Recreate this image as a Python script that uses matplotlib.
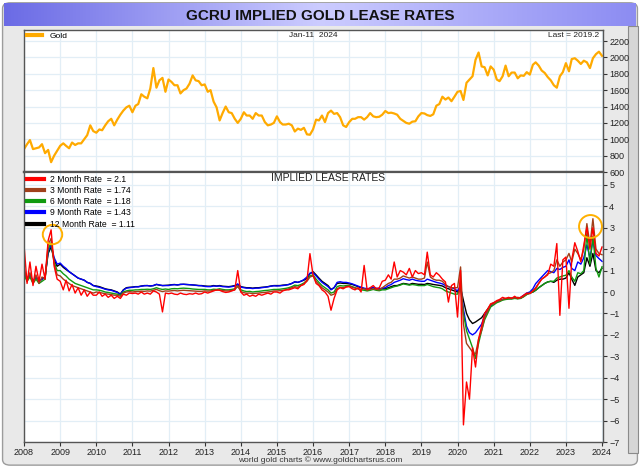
import matplotlib
matplotlib.use('Agg')
import matplotlib.pyplot as plt
import matplotlib.dates as mdates
from matplotlib.patches import FancyBboxPatch, Rectangle
from matplotlib.lines import Line2D
import numpy as np
import pandas as pd

plt.rcParams['font.family'] = ['Liberation Sans', 'DejaVu Sans']

# monthly points, Jan 2008 .. Jan 2024
dates = pd.date_range('2008-01-01', periods=193, freq='MS')

gold = [
    880, 940, 990, 880, 890, 900, 940, 830, 870, 720, 800, 860,
    920, 950, 920, 890, 960, 930, 950, 950, 1000, 1050, 1170, 1100,
    1080, 1120, 1110, 1170, 1220, 1250, 1170, 1240, 1300, 1350, 1390, 1410,
    1330, 1410, 1430, 1550, 1520, 1500, 1620, 1870, 1630, 1720, 1750, 1580,
    1730, 1700, 1660, 1660, 1560, 1600, 1620, 1680, 1780, 1720, 1710, 1660,
    1670, 1580, 1600, 1460, 1390, 1230, 1320, 1400, 1330, 1320, 1250, 1200,
    1250, 1330, 1290, 1290, 1250, 1320, 1290, 1290, 1210, 1170, 1180, 1200,
    1280, 1210, 1180, 1180, 1190, 1170, 1095, 1130, 1115, 1140, 1060, 1055,
    1120, 1240, 1230, 1290, 1210, 1320, 1350, 1310, 1320, 1270, 1170, 1150,
    1210, 1250, 1250, 1270, 1270, 1240, 1270, 1320, 1280, 1270, 1275, 1300,
    1345, 1320, 1325, 1315, 1300, 1250, 1225, 1200, 1190, 1215, 1220, 1280,
    1320, 1315, 1295, 1285, 1305, 1410, 1430, 1520, 1485, 1510, 1465, 1520,
    1580, 1590, 1480, 1690, 1730, 1770, 1970, 2060, 1890, 1880, 1780, 1890,
    1850, 1730, 1710, 1770, 1900, 1770, 1815, 1815, 1745, 1780, 1775, 1820,
    1790, 1910, 1940, 1900, 1840, 1810, 1760, 1720, 1660, 1630, 1770, 1820,
    1930, 1830, 1980, 1990, 1960, 1920, 1960, 1940, 1870, 1990, 2040, 2070,
    2019.2,
]

rate_12m = [
    0.9, 0.6, 0.8, 0.5, 0.7, 0.5, 0.6, 0.7, 1.8, 2.1, 1.5, 1.2,
    1.3, 1.15, 1.05, 0.95, 0.85, 0.75, 0.65, 0.6, 0.55, 0.45, 0.4, 0.3,
    0.28, 0.25, 0.2, 0.15, 0.12, 0.1, 0.05, 0.0, -0.1, 0.1, 0.2, 0.22,
    0.23, 0.25, 0.25, 0.28, 0.3, 0.3, 0.28, 0.3, 0.35, 0.32, 0.3, 0.31,
    0.32, 0.34, 0.35, 0.33, 0.35, 0.36, 0.35, 0.34, 0.33, 0.32, 0.3, 0.3,
    0.28, 0.27, 0.27, 0.3, 0.28, 0.3, 0.27, 0.26, 0.25, 0.27, 0.3, 0.35,
    0.25, 0.22, 0.2, 0.2, 0.18, 0.2, 0.2, 0.22, 0.23, 0.25, 0.28, 0.3,
    0.3, 0.3, 0.32, 0.33, 0.35, 0.4, 0.47, 0.45, 0.5, 0.55, 0.65, 0.85,
    0.95, 0.8, 0.65, 0.5, 0.4, 0.3, 0.12, 0.2, 0.4, 0.42, 0.4, 0.4,
    0.38, 0.35, 0.3, 0.25, 0.2, 0.15, 0.12, 0.15, 0.2, 0.15, 0.12, 0.15,
    0.15, 0.2, 0.25, 0.3, 0.3, 0.35, 0.4, 0.38, 0.35, 0.4, 0.38, 0.36,
    0.36, 0.35, 0.4, 0.38, 0.35, 0.33, 0.31, 0.28, 0.2, 0.15, 0.1, 0.05,
    0.0, 0.2, -0.4, -1.0, -1.3, -1.47, -1.4, -1.3, -1.2, -1.0, -0.8, -0.6,
    -0.5, -0.45, -0.4, -0.35, -0.32, -0.3, -0.3, -0.28, -0.3, -0.28, -0.2, -0.1,
    -0.05, 0.0, 0.08, 0.2, 0.3, 0.4, 0.47, 0.5, 0.45, 0.55, 0.6, 0.6,
    0.65, 0.9, 0.6, 0.31, 0.7, 0.8, 0.9, 1.6, 1.2, 1.8, 1.0, 0.9,
    1.11,
]

rate_9m = [
    0.9, 0.6, 0.8, 0.5, 0.7, 0.5, 0.6, 0.7, 1.9, 2.2, 1.6, 1.3,
    1.35, 1.2, 1.1, 0.95, 0.85, 0.75, 0.65, 0.6, 0.55, 0.45, 0.4, 0.3,
    0.25, 0.22, 0.18, 0.13, 0.1, 0.08, 0.03, -0.02, -0.12, 0.08, 0.18, 0.2,
    0.22, 0.24, 0.24, 0.27, 0.29, 0.3, 0.28, 0.3, 0.36, 0.33, 0.3, 0.3,
    0.3, 0.33, 0.34, 0.33, 0.36, 0.36, 0.35, 0.34, 0.33, 0.31, 0.3, 0.29,
    0.26, 0.25, 0.25, 0.28, 0.27, 0.28, 0.25, 0.24, 0.23, 0.25, 0.28, 0.38,
    0.23, 0.2, 0.18, 0.18, 0.16, 0.18, 0.18, 0.2, 0.22, 0.24, 0.27, 0.29,
    0.28, 0.29, 0.3, 0.32, 0.35, 0.4, 0.48, 0.45, 0.5, 0.58, 0.7, 0.88,
    0.9, 0.75, 0.6, 0.45, 0.35, 0.25, 0.1, 0.2, 0.45, 0.48, 0.45, 0.45,
    0.42, 0.38, 0.33, 0.28, 0.22, 0.18, 0.15, 0.18, 0.22, 0.18, 0.15, 0.18,
    0.2, 0.3, 0.35, 0.45, 0.5, 0.55, 0.62, 0.58, 0.55, 0.6, 0.55, 0.52,
    0.5, 0.5, 0.6, 0.55, 0.5, 0.45, 0.42, 0.38, 0.3, 0.25, 0.2, 0.15,
    0.05, 0.3, -0.8, -1.6, -1.9, -2.0, -1.9, -1.7, -1.5, -1.1, -0.9, -0.65,
    -0.55, -0.45, -0.4, -0.35, -0.32, -0.3, -0.3, -0.28, -0.3, -0.25, -0.15, -0.05,
    0.0, 0.15, 0.39, 0.55, 0.7, 0.85, 1.0, 0.95, 0.9, 1.1, 1.05, 1.15,
    1.2, 1.5, 1.1, 1.0, 1.4, 1.3, 1.6, 2.2, 1.6, 2.4, 1.7, 1.56,
    1.43,
]

rate_6m = [
    0.8, 0.5, 0.7, 0.4, 0.6, 0.4, 0.5, 0.6, 2.0, 2.3, 1.4, 1.0,
    1.0, 0.85, 0.75, 0.6, 0.5, 0.4, 0.35, 0.3, 0.25, 0.2, 0.15, 0.1,
    0.1, 0.08, 0.05, 0.0, -0.02, -0.05, -0.08, -0.1, -0.15, 0.0, 0.05, 0.08,
    0.08, 0.1, 0.1, 0.12, 0.12, 0.13, 0.12, 0.15, 0.2, 0.15, 0.12, 0.14,
    0.12, 0.15, 0.16, 0.15, 0.17, 0.18, 0.17, 0.16, 0.14, 0.13, 0.12, 0.12,
    0.12, 0.1, 0.1, 0.13, 0.12, 0.15, 0.12, 0.1, 0.1, 0.12, 0.15, 0.25,
    0.1, 0.05, 0.02, 0.03, 0.0, 0.02, 0.03, 0.05, 0.07, 0.08, 0.1, 0.12,
    0.12, 0.13, 0.15, 0.17, 0.2, 0.25, 0.32, 0.3, 0.35, 0.42, 0.55, 0.75,
    0.8, 0.6, 0.45, 0.3, 0.2, 0.1, -0.05, 0.0, 0.25, 0.3, 0.28, 0.3,
    0.3, 0.25, 0.2, 0.15, 0.1, 0.08, 0.05, 0.08, 0.12, 0.08, 0.06, 0.1,
    0.1, 0.15, 0.2, 0.25, 0.28, 0.32, 0.38, 0.35, 0.32, 0.35, 0.33, 0.3,
    0.3, 0.3, 0.35, 0.3, 0.25, 0.22, 0.2, 0.15, 0.05, 0.0, -0.05, -0.1,
    -0.1, 0.2, -1.0, -1.8, -2.2, -2.6, -3.1, -2.4, -1.8, -1.3, -1.0, -0.7,
    -0.6, -0.5, -0.45, -0.38, -0.35, -0.33, -0.33, -0.3, -0.32, -0.3, -0.22, -0.12,
    -0.05, 0.0, 0.08, 0.2, 0.3, 0.4, 0.47, 0.5, 0.5, 0.65, 0.7, 0.75,
    0.78, 1.0, 0.7, 0.5, 0.9, 0.85, 1.0, 2.72, 1.3, 2.6, 1.1, 0.7,
    1.18,
]

rate_3m = [
    1.2, 0.5, 0.9, 0.4, 0.8, 0.4, 0.7, 0.6, 2.2, 2.5, 1.3, 0.8,
    0.75, 0.6, 0.5, 0.4, 0.3, 0.25, 0.2, 0.15, 0.1, 0.05, 0.0, -0.05,
    0.0, -0.02, -0.05, -0.08, -0.1, -0.12, -0.15, -0.15, -0.2, -0.05, 0.0, 0.02,
    0.0, 0.02, 0.02, 0.04, 0.03, 0.05, 0.04, 0.08, 0.12, 0.06, 0.02, 0.05,
    0.04, 0.06, 0.07, 0.05, 0.07, 0.08, 0.07, 0.06, 0.05, 0.04, 0.03, 0.03,
    0.05, 0.04, 0.05, 0.08, 0.08, 0.1, 0.07, 0.05, 0.05, 0.07, 0.1, 0.3,
    0.02, -0.03, -0.06, -0.05, -0.08, -0.06, -0.05, -0.03, -0.02, 0.0, 0.02, 0.05,
    0.05, 0.06, 0.08, 0.1, 0.15, 0.2, 0.25, 0.22, 0.3, 0.38, 0.5, 0.7,
    0.75, 0.5, 0.35, 0.2, 0.1, 0.0, -0.15, -0.1, 0.15, 0.22, 0.2, 0.25,
    0.28, 0.22, 0.18, 0.15, 0.12, 0.15, 0.1, 0.12, 0.15, 0.12, 0.1, 0.2,
    0.3, 0.4, 0.45, 0.6, 0.6, 0.65, 0.75, 0.7, 0.65, 0.7, 0.65, 0.6,
    0.6, 0.65, 1.4, 0.7, 0.6, 0.55, 0.55, 0.5, 0.35, 0.25, 0.2, 0.2,
    0.2, 1.17, -1.5, -2.4, -2.6, -2.8, -2.9, -2.2, -1.8, -1.2, -0.9, -0.6,
    -0.55, -0.45, -0.4, -0.35, -0.3, -0.3, -0.28, -0.28, -0.25, -0.28, -0.2, -0.1,
    -0.05, 0.05, 0.2, 0.4, 0.6, 0.7, 0.85, 0.9, 1.0, 1.5, 1.2, 1.4,
    1.5, 1.8, 1.4, 2.0, 1.8, 1.5, 2.0, 3.19, 2.2, 3.42, 2.0, 1.8,
    1.74,
]

rate_2m = [
    2.2, 0.4, 1.4, 0.3, 1.2, 0.5, 1.3, 0.6, 2.4, 2.9, 1.2, 0.6,
    0.5, 0.1, 0.55, 0.05, 0.35, -0.05, 0.2, -0.15, 0.1, -0.2, 0.0, -0.15,
    -0.15, 0.0, -0.2, -0.1, -0.25, -0.15, -0.3, -0.2, -0.3, -0.1, -0.15, -0.05,
    -0.07, -0.05, -0.1, 0.0, -0.1, -0.05, -0.1, 0.05, 0.0, -0.1, -0.93, -0.05,
    -0.08, -0.05, -0.1, -0.12, -0.05, -0.1, -0.12, -0.08, -0.1, -0.05, -0.1, -0.08,
    0.0, -0.05, 0.0, 0.05, 0.1, 0.08, 0.02, -0.02, 0.0, 0.05, 0.1, 1.0,
    0.0, -0.15, -0.1, -0.2, -0.15, -0.2, -0.1, -0.15, -0.1, -0.05, -0.1, 0.0,
    0.0, -0.05, 0.05, 0.1, 0.1, 0.15, 0.2, 0.15, 0.3, 0.35, 0.55, 1.79,
    0.8, 0.4, 0.3, 0.1, 0.0, -0.2, -0.85, -0.3, 0.1, 0.2, 0.15, 0.23,
    0.25, 0.15, 0.1, 0.2, 0.0, 1.24, 0.1, 0.2, 0.3, 0.15, 0.2, 0.5,
    0.55, 0.8, 0.6, 1.4, 0.7, 1.0, 0.93, 0.8, 1.1, 0.7, 1.0, 0.86,
    0.9, 0.8, 1.86, 0.8, 0.7, 0.9, 0.78, 0.6, 0.47, -0.47, 0.3, 0.4,
    -1.17, 1.0, -6.2, -4.2, -5.0, -2.6, -3.5, -2.2, -1.6, -1.0, -0.8, -0.55,
    -0.5, -0.4, -0.35, -0.25, -0.3, -0.25, -0.3, -0.2, -0.3, -0.25, -0.15, -0.05,
    -0.08, 0.05, 0.16, 0.4, 0.6, 0.7, 0.8, 1.3, 1.2, 2.26, -1.09, 1.5,
    1.63, -0.76, 1.5, 2.3, 1.9, 1.4, 2.2, 3.0, 2.0, 3.0, 1.8, 1.68,
    2.1,
]

rate_names = ['2 Month Rate', '3 Month Rate', '6 Month Rate', '9 Month Rate', '12 Month Rate']
rate_series = [rate_2m, rate_3m, rate_6m, rate_9m, rate_12m]
rate_colors = ['#ff0000', '#a0401a', '#109a10', '#0000ff', '#000000']

# highlighted spikes (orange rings)
ring_dates = pd.to_datetime(['2008-10-10', '2023-09-06'])
ring_values = [2.72, 3.06]
ring_sizes = [14, 16.5]

gold_ticks = list(range(600, 2201, 200))
rate_ticks = list(range(-7, 6))
years = list(range(2008, 2025))

W, H = 640, 467
fig = plt.figure(figsize=(W / 100, H / 100), dpi=100)
fig.patch.set_facecolor('white')

# outer frame
fig.patches.append(FancyBboxPatch((0.004, 0.004), 0.992, 0.99,
                                  boxstyle='round,pad=0,rounding_size=0.012',
                                  transform=fig.transFigure, facecolor='#e9e9e9',
                                  edgecolor='#9c9c9c', linewidth=1.0, zorder=-5))
fig.patches.append(Rectangle((628 / W, 0.03), 10 / W, 0.915, transform=fig.transFigure,
                             facecolor='#d6d6d6', edgecolor='#8a8a8a', linewidth=0.8, zorder=-4))

# title bar with gradient
tax = fig.add_axes([4 / W, 1 - 26 / H, 632 / W, 23 / H])
grad = np.linspace(0, 1, 256)
left = np.array([0.42, 0.42, 0.90])
mid = np.array([0.80, 0.80, 1.0])
right = np.array([0.55, 0.55, 0.95])
cols = np.where(grad[:, None] < 0.5,
                left + (mid - left) * (grad[:, None] / 0.5),
                mid + (right - mid) * ((grad[:, None] - 0.5) / 0.5))
tax.imshow(cols[None, :, :], aspect='auto', extent=[0, 1, 0, 1])
tax.set_xlim(0, 1)
tax.set_ylim(0, 1)
tax.axis('off')
tax.text(0.5, 0.45, 'GCRU IMPLIED GOLD LEASE RATES', ha='center', va='center',
         fontsize=11, fontweight='bold', color='#111111')

grid_color = '#e2eef6'
xmin, xmax = pd.Timestamp('2008-01-01'), pd.Timestamp('2024-01-11')
year_ticks = pd.to_datetime([f'{y}-01-01' for y in years])

# gold panel
ax1 = fig.add_axes([24 / W, 1 - 172 / H, 579 / W, 142 / H])
ax2 = fig.add_axes([24 / W, 1 - 442 / H, 579 / W, 270 / H], sharex=ax1)

for ax in (ax1, ax2):
    ax.set_facecolor('white')
    ax.set_xticks(year_ticks)
    ax.grid(True, color=grid_color, linewidth=0.9)
    ax.set_axisbelow(True)
    ax.yaxis.tick_right()
    ax.tick_params(axis='y', direction='out', length=3, width=0.8, labelsize=6.5,
                   pad=1.5, colors='#333333', labelcolor='#222222')
    for s in ax.spines.values():
        s.set_color('#555555')
        s.set_linewidth(1.0)

ax1.plot(dates, gold, color='#ffaa00', linewidth=1.6)
ax1.set_ylim(600, 2335)
ax1.set_yticks(gold_ticks)
ax1.set_xlim(xmin, xmax)
ax1.tick_params(axis='x', which='both', length=0, labelbottom=False)
ax1.spines['bottom'].set_linewidth(1.6)

ax1.legend([Line2D([0], [0], color='#ffaa00', linewidth=3)], ['Gold'], loc='upper left',
           frameon=False, fontsize=6, handlelength=1.9, handletextpad=0.9,
           borderaxespad=0.1, borderpad=0.2)
ax1.text(0.5, 0.985, 'Jan-11  2024', transform=ax1.transAxes, ha='center', va='top',
         fontsize=6, color='#222222')
ax1.text(0.993, 0.985, f'Last = {gold[-1]}', transform=ax1.transAxes, ha='right', va='top',
         fontsize=6, color='#222222')

# lease rate panel
for name, vals, col in reversed(list(zip(rate_names, rate_series, rate_colors))):
    ax2.plot(dates, vals, color=col, linewidth=1.0)
ax2.plot(ring_dates[:1], ring_values[:1], 'o', ms=ring_sizes[0], mfc='none',
         mec='#ffb000', mew=1.4)
ax2.plot(ring_dates[1:], ring_values[1:], 'o', ms=ring_sizes[1], mfc='none',
         mec='#ffb000', mew=1.4)
ax2.set_ylim(-7, 5.6)
ax2.set_yticks(rate_ticks)
ax2.set_xlim(xmin, xmax)
ax2.xaxis.set_major_formatter(mdates.DateFormatter('%Y'))
ax2.tick_params(axis='x', direction='out', length=3, width=0.8, labelsize=6.5, pad=1.5,
                colors='#333333', labelcolor='#222222')
ax2.spines['top'].set_linewidth(1.6)

handles = [Line2D([0], [0], color=c, linewidth=3) for c in rate_colors]
labels = [f'{n}  = {v[-1]:g}' for n, v in zip(rate_names, rate_series)]
ax2.legend(handles, labels, loc='upper left', frameon=False, fontsize=6.2,
           handlelength=2.0, handletextpad=0.7, labelspacing=0.25,
           borderaxespad=0.1, borderpad=0.25)
ax2.text(0.525, 0.995, 'IMPLIED LEASE RATES', transform=ax2.transAxes, ha='center',
         va='top', fontsize=7.5, color='#222222')

fig.text(0.5, 1 - 460 / H, 'world gold charts \u00a9 www.goldchartsrus.com', ha='center',
         va='center', fontsize=6, color='#333333')

fig.savefig('out.png', dpi=100, facecolor=fig.get_facecolor())
